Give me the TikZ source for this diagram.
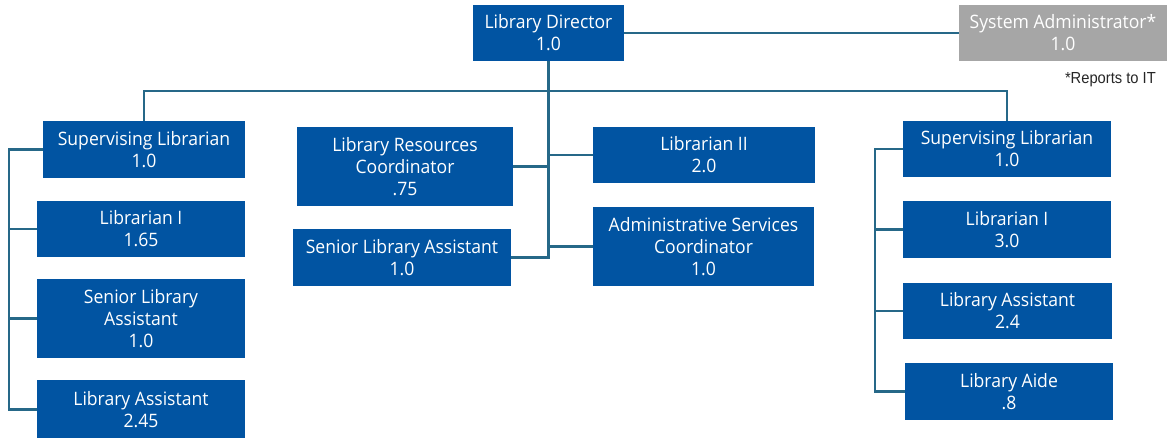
\documentclass[tikz,border=0pt]{standalone}
\usepackage{fontspec}
\setmainfont[FakeStretch=0.95]{Open Sans}
\newfontfamily\notefont[FakeStretch=0.92]{Liberation Sans}
\definecolor{boxblue}{HTML}{0154A2}
\definecolor{boxgray}{HTML}{A6A6A6}
\definecolor{linecol}{HTML}{266888}
\begin{document}
\begin{tikzpicture}[x=1pt,y=-1pt,
  box/.style={fill=boxblue, text=white, inner sep=0pt, align=center,
    font=\fontsize{18.5}{22}\selectfont},
  graybox/.style={box, fill=boxgray},
  link/.style={draw=linecol, line width=2.2pt}]
\useasboundingbox (0,0) rectangle (1167,437);
% top
\node[box, minimum width=151pt, minimum height=56pt] (ld) at (548.5,33) {Library Director\\1.0};
\node[graybox, minimum width=208pt, minimum height=56pt] (sa) at (1063,33) {System Administrator*\\1.0};
\node[font=\notefont\fontsize{16}{18}\selectfont, text=black!85, anchor=base east, inner sep=0pt] (note) at (1156,83) {*Reports to IT};
% left column
\node[box, minimum width=202pt, minimum height=57pt] (lsl) at (144,149.5) {Supervising Librarian\\1.0};
\node[box, minimum width=208pt, minimum height=56pt] (llib) at (141,229) {Librarian I\\1.65};
\node[box, minimum width=208pt, minimum height=79pt] (lsla) at (141,318.5) {Senior Library\\Assistant\\1.0};
\node[box, minimum width=208pt, minimum height=59pt] (lla) at (141,409.5) {Library Assistant\\2.45};
% middle
\node[box, minimum width=216pt, minimum height=79pt] (lrc) at (405,166.5) {Library Resources\\Coordinator\\.75};
\node[box, minimum width=218pt, minimum height=57pt] (msla) at (402,257.5) {Senior Library Assistant\\1.0};
\node[box, minimum width=222pt, minimum height=56pt] (lib2) at (704,155) {Librarian II\\2.0};
\node[box, minimum width=221pt, minimum height=79pt] (asc) at (703.5,246.5) {Administrative Services\\Coordinator\\1.0};
% right column
\node[box, minimum width=208pt, minimum height=56pt] (rsl) at (1007,149) {Supervising Librarian\\1.0};
\node[box, minimum width=208pt, minimum height=57pt] (rlib) at (1007,229.5) {Librarian I\\3.0};
\node[box, minimum width=209pt, minimum height=56pt] (rla) at (1007.5,311) {Library Assistant\\2.4};
\node[box, minimum width=208pt, minimum height=57pt] (raide) at (1009,391.5) {Library Aide\\.8};
% helper coordinates
\coordinate (bus) at (548.5,91);
\coordinate (lt) at (9,0);
\coordinate (rt) at (875,0);
% connectors
\draw[link] (ld.east) -- (sa.west);
\draw[link] (ld.south) -- (ld.south |- msla.east) -- (msla.east);
\draw[link] (lsl.north) -- (lsl.north |- bus) -- (rsl.north |- bus) -- (rsl.north);
\draw[link] (lrc.east) -- (lrc.east -| ld.south);
\draw[link] (lib2.west) -- (lib2.west -| ld.south);
\draw[link] (asc.west) -- (asc.west -| ld.south);
\draw[link] (lsl.west) -- (lsl.west -| lt) -- (lla.west -| lt) -- (lla.west);
\draw[link] (llib.west) -- (llib.west -| lt);
\draw[link] (lsla.west) -- (lsla.west -| lt);
\draw[link] (rsl.west) -- (rsl.west -| rt) -- (raide.west -| rt) -- (raide.west);
\draw[link] (rlib.west) -- (rlib.west -| rt);
\draw[link] (rla.west) -- (rla.west -| rt);
\end{tikzpicture}
\end{document}
